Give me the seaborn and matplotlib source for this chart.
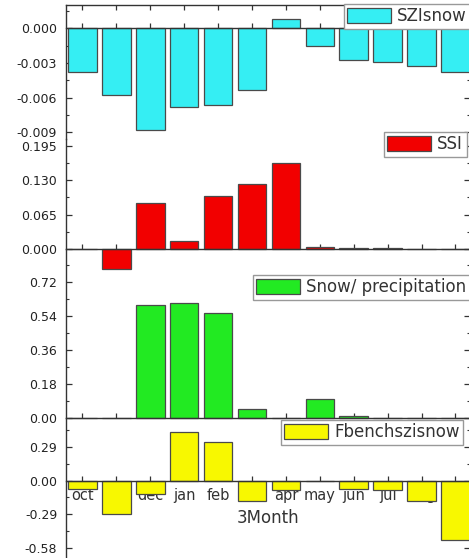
import matplotlib
matplotlib.use("Agg")
import matplotlib.pyplot as plt
from matplotlib.patches import Patch
from matplotlib.ticker import FixedLocator, AutoMinorLocator, FormatStrFormatter
import seaborn as sns

months = ["oct", "nov", "dec", "jan", "feb", "mar",
          "apr", "may", "jun", "jul", "aug", "sep"]

szi_snow = [-0.0038, -0.0058, -0.0088, -0.0068, -0.0066, -0.0053,
            0.0008, -0.0015, -0.0027, -0.0029, -0.0033, -0.0038]
ssi = [0.0, -0.038, 0.087, 0.015, 0.100, 0.123,
       0.162, 0.003, 0.002, 0.001, 0.0, 0.0]
snow_precip = [0.0, 0.0, 0.597, 0.609, 0.553, 0.049,
               0.0, 0.102, 0.014, 0.0, 0.0, 0.0]
fbench = [-0.071, -0.287, -0.114, 0.414, 0.328, -0.171,
          -0.080, -0.005, -0.071, -0.080, -0.176, -0.507]

sns.set_style("ticks")
plt.rcParams["font.family"] = ["DejaVu Sans"]

W, H = 469, 558
fig = plt.figure(figsize=(W / 100, H / 100), dpi=100)
fig.patch.set_facecolor("white")

left = 65.5 / W
width = (470 - 65.5) / W

# (name, values, colour, rect top px, rect bottom px, ylim, yticks, fmt, legend corner px)
panels = [
    ("SZIsnow", szi_snow, "#35eef3", 5, 139, (-0.00958, 0.00202),
     [-0.009, -0.006, -0.003, 0.0], "%.3f", (344, 4)),
    ("SSI", ssi, "#f20000", 139, 249, (0.0, 0.208),
     [0.0, 0.065, 0.130, 0.195], "%.3f", (384, 132)),
    ("Snow/ precipitation", snow_precip, "#22ea22", 249, 418.3, (0.0, 0.892),
     [0.0, 0.18, 0.36, 0.54, 0.72], "%.2f", (253, 275)),
    ("Fbenchszisnow", fbench, "#f8f800", 418.3, 558, (-0.663, 0.533),
     [-0.58, -0.29, 0.0, 0.29], "%.2f", (281, 420)),
]

for i, (name, vals, col, top_px, bot_px, ylim, yt, fmt, corner) in enumerate(panels):
    ax = fig.add_axes([left, (H - bot_px) / H, width, (bot_px - top_px) / H])
    ax.patch.set_visible(False)
    sns.barplot(x=months, y=vals, ax=ax, color=col, saturation=1,
                edgecolor="#4a4a4a", linewidth=0.9, width=0.84)
    for p in ax.patches:
        p.set_clip_on(False)
    ax.set_xlim(-0.5, 11.43)
    ax.set_ylim(*ylim)
    ax.set_xlabel("")
    ax.set_ylabel("")
    ax.set_axisbelow(True)

    for s in ax.spines.values():
        s.set_color("#333333")
        s.set_linewidth(1.0)
    ax.spines["bottom"].set_position(("data", 0))
    ax.spines["top"].set_visible(i == 0)
    ax.spines["right"].set_visible(True)

    ax.yaxis.set_major_locator(FixedLocator(yt))
    ax.yaxis.set_minor_locator(AutoMinorLocator(2))
    ax.yaxis.set_major_formatter(FormatStrFormatter(fmt))
    ax.tick_params(axis="y", which="major", direction="in", length=4.5,
                   width=0.9, right=True, labelright=False, labelsize=9,
                   pad=6, colors="#333333", labelcolor="#222222")
    ax.tick_params(axis="y", which="minor", direction="in", length=2.5,
                   width=0.8, right=True, colors="#333333")
    ax.tick_params(axis="x", which="major", direction="in", length=3.5,
                   width=0.9, top=(i == 0), bottom=True, colors="#333333",
                   labelbottom=(i == 3), labelsize=10.5, pad=5,
                   labelcolor="#333333")

    leg = ax.legend(handles=[Patch(facecolor=col, edgecolor="#4a4a4a",
                                   linewidth=0.9, label=name)],
                    loc="upper left",
                    bbox_to_anchor=(corner[0] / W, 1 - corner[1] / H),
                    bbox_transform=fig.transFigure, borderaxespad=0,
                    fontsize=12, frameon=True, fancybox=False, framealpha=1,
                    edgecolor="#999999", borderpad=0.2, handlelength=2.6,
                    handleheight=1.05, handletextpad=0.4)
    leg.get_frame().set_linewidth(1.0)
    for t in leg.get_texts():
        t.set_color("#333333")

    if i == 3:
        ax.set_xlabel("3Month", fontsize=12, color="#333333", labelpad=5)

fig.savefig("out.png", dpi=100, facecolor="white")
